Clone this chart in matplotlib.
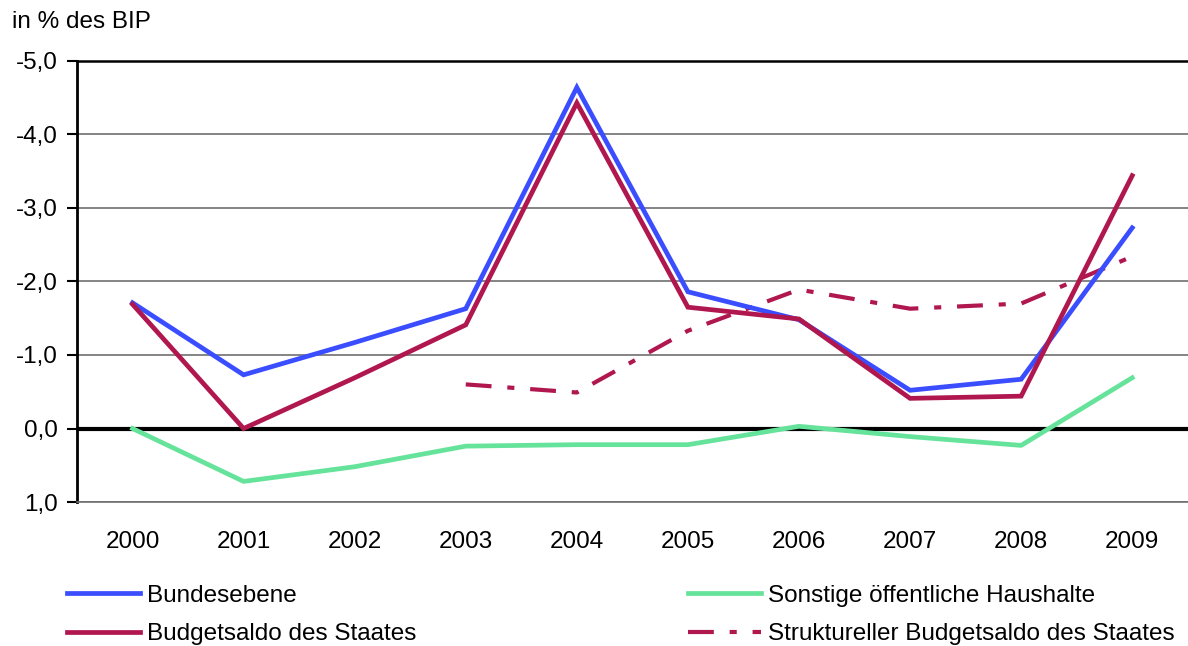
import numpy as np
import matplotlib
matplotlib.use('Agg')
import matplotlib.pyplot as plt
from matplotlib.ticker import FuncFormatter

plt.rcParams['font.family'] = ['Liberation Sans', 'DejaVu Sans']

# data (in % des BIP, negative = deficit)
years = ['2000', '2001', '2002', '2003', '2004', '2005', '2006', '2007', '2008', '2009']
bundesebene = [-1.71, -0.73, -1.17, -1.63, -4.64, -1.86, -1.48, -0.52, -0.67, -2.73]
budgetsaldo = [-1.69, 0.0, -0.69, -1.41, -4.43, -1.65, -1.49, -0.41, -0.44, -3.44]
sonstige = [0.0, 0.72, 0.52, 0.24, 0.22, 0.22, -0.03, 0.11, 0.23, -0.69]
struktur_years = ['2003', '2004', '2005', '2006', '2007', '2008', '2009']
strukturell = [-0.60, -0.49, -1.33, -1.89, -1.63, -1.70, -2.34]

blue = '#3a4dff'
red = '#b0174e'
green = '#66e39a'
fs = 17.5

fig = plt.figure(figsize=(11.88, 6.46), dpi=100)
ax = fig.add_axes([0.0648, 0.2229, 0.935, 0.6827])

x = np.arange(len(years))
xs = np.array([years.index(y) for y in struktur_years])

l1, = ax.plot(x, bundesebene, color=blue, lw=3.4, solid_joinstyle='miter', zorder=4)
l2, = ax.plot(x, budgetsaldo, color=red, lw=3.4, solid_joinstyle='miter', zorder=5)
l3, = ax.plot(x, sonstige, color=green, lw=3.4, zorder=3)
l4, = ax.plot(xs, strukturell, color=red, lw=3.0, dashes=(6.2, 3.8, 1.7, 3.8),
              dash_capstyle='butt', zorder=3)

ax.set_xlim(-0.5, len(years) - 0.5)
ax.set_ylim(1, -5)
ax.set_yticks(np.arange(-5, 1.1, 1))
ax.yaxis.set_major_formatter(FuncFormatter(lambda v, p: f'{v:.1f}'.replace('.', ',')))
ax.set_xticks(x)
ax.set_xticklabels(years)

for v in [-4, -3, -2, -1, 1]:
    ax.axhline(v, color='#707070', lw=1.2, zorder=1)
ax.axhline(0, color='black', lw=3, zorder=2)

ax.spines['right'].set_visible(False)
ax.spines['top'].set_color('black')
ax.spines['top'].set_linewidth(1.8)
ax.spines['bottom'].set_color('#707070')
ax.spines['bottom'].set_linewidth(1.2)
ax.spines['left'].set_linewidth(2)

ax.tick_params(axis='y', direction='out', length=7, width=1.5, labelsize=fs, pad=7)
ax.tick_params(axis='x', length=0, labelsize=fs, pad=21)

fig.text(12 / 1188, 1 - 22 / 646, 'in % des BIP', fontsize=fs, va='center', ha='left')

# legend, two columns placed separately
leg_kw = dict(frameon=False, loc='center left', fontsize=fs, handlelength=3.0,
              handletextpad=0.3, labelspacing=0.68, borderpad=0, borderaxespad=0)
leg1 = fig.legend([l1, l2], ['Bundesebene', 'Budgetsaldo des Staates'],
                  bbox_to_anchor=(67 / 1188, 1 - 615 / 646), **leg_kw)
leg2 = fig.legend([l3, l4], ['Sonstige öffentliche Haushalte', 'Struktureller Budgetsaldo des Staates'],
                  bbox_to_anchor=(688 / 1188, 1 - 615 / 646), **leg_kw)

fig.savefig('out.png', dpi=100)
